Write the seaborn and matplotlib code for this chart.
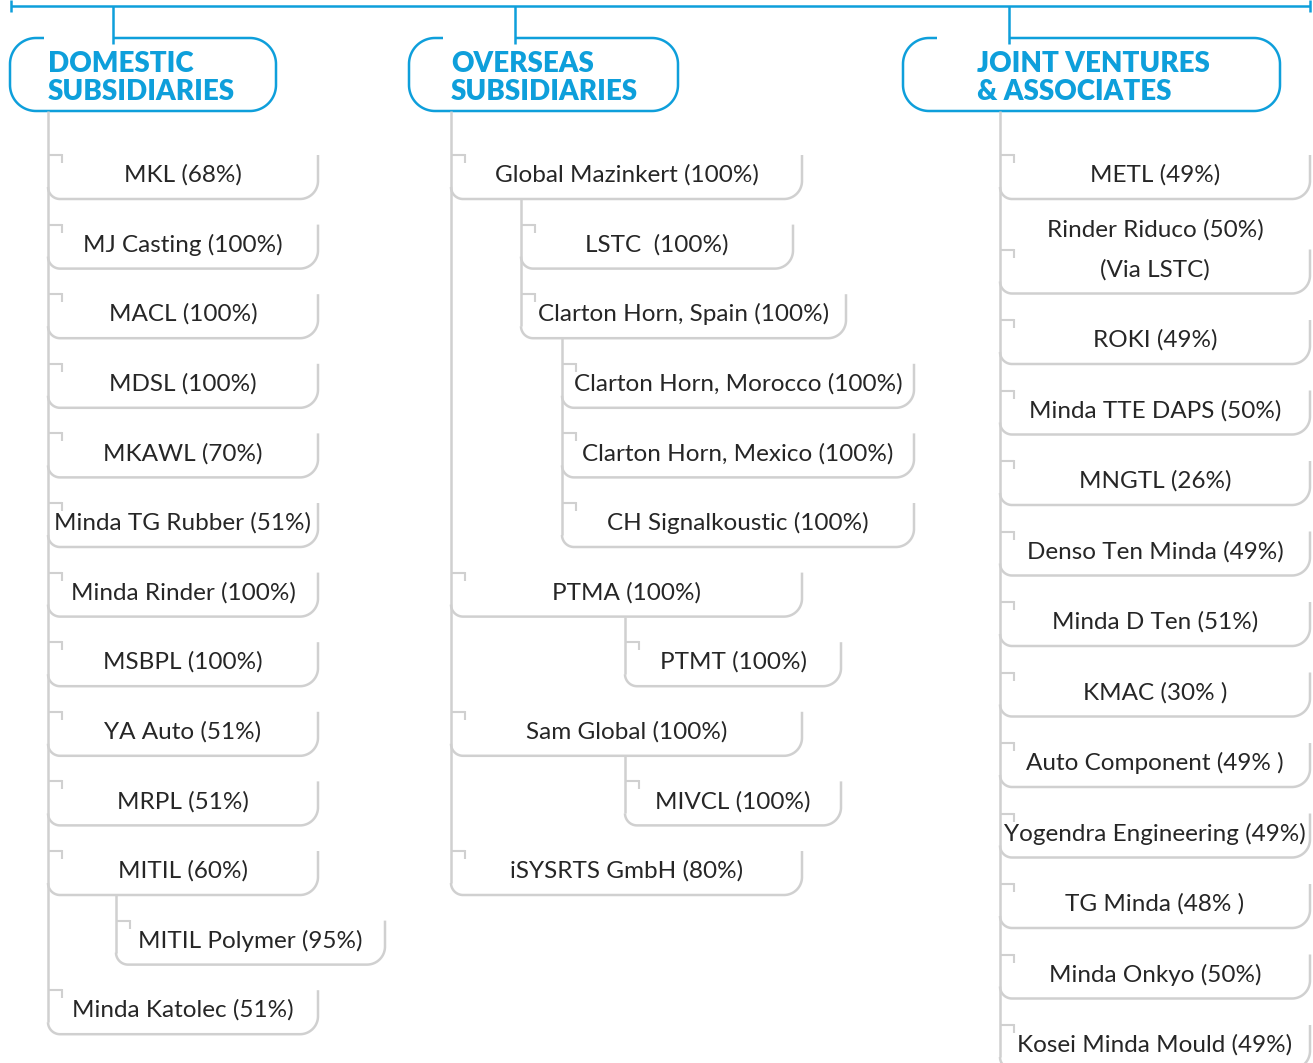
import numpy as np
import matplotlib.pyplot as plt
import seaborn as sns

sns.set_theme(style="white")
plt.rcParams["font.family"] = ["Lato", "DejaVu Sans"]

BLUE = "#0E9FDB"
GREY = "#D0D0D0"
INK = "#262626"

# ---- chart content ----
group_titles = [
    ["DOMESTIC", "SUBSIDIARIES"],
    ["OVERSEAS", "SUBSIDIARIES"],
    ["JOINT VENTURES", "& ASSOCIATES"],
]

domestic_labels = [
    "MKL (68%)", "MJ Casting (100%)", "MACL (100%)", "MDSL (100%)", "MKAWL (70%)",
    "Minda TG Rubber (51%)", "Minda Rinder (100%)", "MSBPL (100%)", "YA Auto (51%)",
    "MRPL (51%)", "MITIL (60%)", "MITIL Polymer (95%)", "Minda Katolec (51%)",
]
domestic_parents = [-1, -1, -1, -1, -1, -1, -1, -1, -1, -1, -1, 10, -1]

overseas_labels = [
    "Global Mazinkert (100%)", "LSTC  (100%)", "Clarton Horn, Spain (100%)",
    "Clarton Horn, Morocco (100%)", "Clarton Horn, Mexico (100%)", "CH Signalkoustic (100%)",
    "PTMA (100%)", "PTMT (100%)", "Sam Global (100%)", "MIVCL (100%)", "iSYSRTS GmbH (80%)",
]
overseas_parents = [-1, 0, 0, 2, 2, 2, -1, 6, -1, 8, -1]

jv_labels = [
    "METL (49%)", "Rinder Riduco (50%)\n(Via LSTC)", "ROKI (49%)", "Minda TTE DAPS (50%)",
    "MNGTL (26%)", "Denso Ten Minda (49%)", "Minda D Ten (51%)", "KMAC (30% )",
    "Auto Component (49% )", "Yogendra Engineering (49%)", "TG Minda (48% )",
    "Minda Onkyo (50%)", "Kosei Minda Mould (49%)",
]
jv_parents = [-1] * len(jv_labels)

# ---- layout (pixels) ----
W, H = 1313, 1063
header_x = [(10, 276, 113), (409, 678, 515), (903, 1280, 1009)]
header_text_x = [48, 451, 977]
header_top, header_bottom = 38, 111

domestic_box_x = [(48, 318)] * 11 + [(116, 385), (48, 318)]
overseas_box_x = [(451, 802), (521, 793), (521, 846), (562, 914), (562, 914), (562, 914),
                  (451, 802), (625, 841), (451, 802), (625, 841), (451, 802)]
jv_box_x = [(1000, 1310)] * len(jv_labels)

grid_tops = [155 + 69.6 * i for i in range(13)]
jv_tops = [155 + 70.5 * i + (24 if i >= 1 else 0) for i in range(len(jv_labels))]
BOX_H = 44


def arc(cx, cy, r, a0, a1, n=24):
    t = np.radians(np.linspace(a0, a1, n))
    return list(cx + r * np.cos(t)), list(cy + r * np.sin(t))


def draw_header(ax, left, right, conn, lines, tx):
    r = 26
    xs, ys = [left + r + 8, left + r], [header_top, header_top]
    for seg in (arc(left + r, header_top + r, r, 270, 180),
                arc(left + r, header_bottom - r, r, 180, 90),
                arc(right - r, header_bottom - r, r, 90, 0),
                arc(right - r, header_top + r, r, 0, -90)):
        xs += seg[0]
        ys += seg[1]
    xs.append(conn)
    ys.append(header_top)
    ax.plot(xs, ys, color=BLUE, lw=1.8, solid_capstyle="butt")
    ax.plot([conn, conn], [6, header_top + 6], color=BLUE, lw=1.8, solid_capstyle="butt")
    for k, line in enumerate(lines):
        ax.text(tx, 64 + 28 * k, line, color=BLUE, fontsize=20, fontweight="heavy",
                ha="left", va="center")


def draw_box(ax, x0, x1, top, label):
    bottom = top + BOX_H
    rr, rl = 18, 12
    xs, ys = [x1, x1], [top, bottom - rr]
    a = arc(x1 - rr, bottom - rr, rr, 0, 90)
    b = arc(x0 + rl, bottom - rl, rl, 90, 180)
    xs += a[0] + b[0]
    ys += a[1] + b[1]
    ax.plot(xs, ys, color=GREY, lw=1.8, solid_capstyle="butt")
    ax.plot([x0, x0 + 14], [top, top], color=GREY, lw=1.5, solid_capstyle="butt")
    ax.plot([x0 + 14, x0 + 14], [top - 1, top + 8], color=GREY, lw=1.5, solid_capstyle="butt")
    parts = label.split("\n")
    for k, part in enumerate(parts):
        ax.text((x0 + x1) / 2, top + 20 - 40 * (len(parts) - 1) + 40 * k, part, color=INK,
                fontsize=17.5, fontweight="normal", ha="center", va="center")


def draw_column(ax, labels, parents, box_x, tops):
    # vertical spines: one for the column root, one under each parent
    groups = {}
    for i, p in enumerate(parents):
        groups.setdefault(p, []).append(i)
    for p, kids in groups.items():
        last = kids[-1]
        x = box_x[last][0]
        y0 = header_bottom if p < 0 else tops[p] + BOX_H
        y1 = tops[last] + BOX_H - 12
        ax.plot([x, x], [y0, y1], color=GREY, lw=1.8, solid_capstyle="butt")
    for i, label in enumerate(labels):
        draw_box(ax, box_x[i][0], box_x[i][1], tops[i], label)


fig = plt.figure(figsize=(W / 100, H / 100), dpi=100)
ax = fig.add_axes([0, 0, 1, 1])
ax.set_xlim(0, W)
ax.set_ylim(H, 0)
ax.axis("off")

# top bar
ax.plot([11, 1310], [6, 6], color=BLUE, lw=1.8, solid_capstyle="butt")
for x in (11, 1310):
    ax.plot([x, x], [0, 12], color=BLUE, lw=1.8, solid_capstyle="butt")

for (left, right, conn), lines, tx in zip(header_x, group_titles, header_text_x):
    draw_header(ax, left, right, conn, lines, tx)

draw_column(ax, domestic_labels, domestic_parents, domestic_box_x, grid_tops)
draw_column(ax, overseas_labels, overseas_parents, overseas_box_x, grid_tops)
draw_column(ax, jv_labels, jv_parents, jv_box_x, jv_tops)

sns.despine(ax=ax, left=True, bottom=True)
fig.savefig("out.png", dpi=100)
